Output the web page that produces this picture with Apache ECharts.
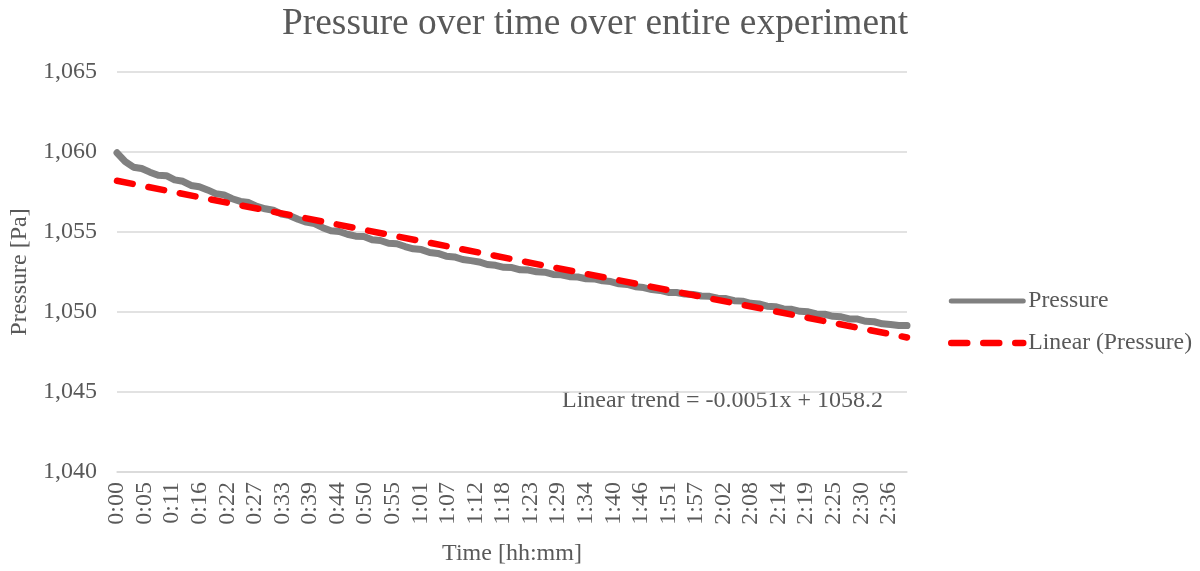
<!DOCTYPE html>
<html>
<head>
<meta charset="utf-8">
<title>Pressure over time over entire experiment</title>
<script src="https://cdn.jsdelivr.net/npm/echarts@6/dist/echarts.min.js"></script>
<style>
  html, body { margin: 0; padding: 0; background: #ffffff; }
  #chart { width: 1200px; height: 571px; }
</style>
</head>
<body>
<div id="chart"></div>
<script>
// Samples are logged every 5 s; the x axis counts samples (as the trend equation does).
const SAMPLE_STEP = 20;          // samples between stored pressure readings
const TOTAL_SAMPLES = 1920;      // length of the run in samples
const LABEL_EVERY = 67;          // samples between time labels

// Time tick labels [hh:mm], one every LABEL_EVERY samples
const timeLabels = [
  '0:00', '0:05', '0:11', '0:16', '0:22', '0:27', '0:33', '0:39', '0:44', '0:50',
  '0:55', '1:01', '1:07', '1:12', '1:18', '1:23', '1:29', '1:34', '1:40', '1:46',
  '1:51', '1:57', '2:02', '2:08', '2:14', '2:19', '2:25', '2:30', '2:36'
];

// Pressure [Pa], one reading every SAMPLE_STEP samples
const pressure = [
  1059.95, 1059.40, 1059.05, 1058.97, 1058.74, 1058.55, 1058.52, 1058.26, 1058.17, 1057.91,
  1057.83, 1057.63, 1057.40, 1057.32, 1057.08, 1056.91, 1056.84, 1056.60, 1056.45, 1056.36,
  1056.12, 1056.02, 1055.80, 1055.62, 1055.52, 1055.27, 1055.08, 1055.03, 1054.86, 1054.74,
  1054.72, 1054.52, 1054.47, 1054.30, 1054.27, 1054.09, 1053.95, 1053.90, 1053.72, 1053.66,
  1053.49, 1053.44, 1053.28, 1053.21, 1053.13, 1052.97, 1052.92, 1052.79, 1052.78, 1052.64,
  1052.62, 1052.51, 1052.49, 1052.35, 1052.33, 1052.21, 1052.19, 1052.08, 1052.07, 1051.95,
  1051.90, 1051.76, 1051.72, 1051.58, 1051.53, 1051.40, 1051.35, 1051.22, 1051.22, 1051.12,
  1051.10, 1051.00, 1050.98, 1050.86, 1050.84, 1050.71, 1050.68, 1050.54, 1050.50, 1050.36,
  1050.33, 1050.19, 1050.17, 1050.04, 1050.01, 1049.88, 1049.86, 1049.73, 1049.70, 1049.57,
  1049.56, 1049.42, 1049.39, 1049.26, 1049.22, 1049.16, 1049.15
];

// Linear trend: y = slope * x + intercept
const trendSlope = -0.0051;
const trendIntercept = 1058.2;

const pressureData = pressure.map((v, i) => [i * SAMPLE_STEP, v]);
const trendData = [0, TOTAL_SAMPLES].map(x => [x, trendSlope * x + trendIntercept]);

const FONT = "'Liberation Serif', 'Times New Roman', serif";
const TEXT = '#595959';
const GRID = '#d9d9d9';

const chart = echarts.init(document.getElementById('chart'), null, { renderer: 'canvas' });
chart.setOption({
  animation: false,
  backgroundColor: '#ffffff',
  title: {
    text: 'Pressure over time over entire experiment',
    left: 282,
    top: 6,
    padding: 0,
    textStyle: { fontFamily: FONT, fontSize: 37.4, fontWeight: 'normal', color: TEXT }
  },
  grid: { left: 117, right: 293, top: 72, bottom: 99, containLabel: false },
  legend: {
    orient: 'vertical',
    left: 948,
    top: 289,
    padding: 0,
    itemWidth: 72,
    itemHeight: 8,
    itemGap: 18,
    textStyle: { fontFamily: FONT, fontSize: 23.7, color: TEXT },
    itemStyle: { opacity: 0 },
    data: [
      { name: 'Pressure', lineStyle: { width: 5, cap: 'round' } },
      { name: 'Linear (Pressure)', lineStyle: { width: 6.5, cap: 'round', type: [16, 16] } }
    ]
  },
  xAxis: {
    type: 'value',
    min: 0,
    max: TOTAL_SAMPLES,
    interval: LABEL_EVERY,
    name: 'Time [hh:mm]',
    nameLocation: 'middle',
    nameGap: 70,
    nameTextStyle: { fontFamily: FONT, fontSize: 24, color: TEXT },
    axisLine: { show: true, lineStyle: { color: GRID, width: 1.5 } },
    axisTick: { show: false },
    splitLine: { show: false },
    axisLabel: {
      rotate: 90,
      margin: 10,
      fontFamily: FONT,
      fontSize: 24,
      color: TEXT,
      showMaxLabel: true,
      formatter: function (value) {
        const k = Math.round(value / LABEL_EVERY);
        if (Math.abs(k * LABEL_EVERY - value) > 1e-6) return '';
        return k < timeLabels.length ? timeLabels[k] : '';
      }
    }
  },
  yAxis: {
    type: 'value',
    min: 1040,
    max: 1065,
    interval: 5,
    name: 'Pressure [Pa]',
    nameLocation: 'middle',
    nameGap: 81,
    nameTextStyle: { fontFamily: FONT, fontSize: 24, color: TEXT },
    axisLine: { show: false },
    axisTick: { show: false },
    splitLine: { show: true, lineStyle: { color: GRID, width: 1.5 } },
    axisLabel: {
      margin: 20,
      fontFamily: FONT,
      fontSize: 24,
      color: TEXT,
      formatter: v => v.toLocaleString('en-US')
    }
  },
  series: [
    {
      name: 'Pressure',
      type: 'line',
      data: pressureData,
      symbol: 'none',
      smooth: false,
      lineStyle: { color: '#808080', width: 7, cap: 'round', join: 'round' },
      itemStyle: { color: '#808080' },
      z: 2
    },
    {
      name: 'Linear (Pressure)',
      type: 'line',
      data: trendData,
      symbol: 'none',
      lineStyle: { color: '#ff0000', width: 6.5, type: [16, 16], cap: 'round' },
      itemStyle: { color: '#ff0000' },
      z: 3
    }
  ],
  graphic: [
    {
      type: 'text',
      left: 562,
      top: 389,
      style: {
        text: 'Linear trend = -0.0051x + 1058.2',
        font: '24px ' + FONT,
        fill: TEXT
      }
    }
  ]
});
</script>
</body>
</html>
